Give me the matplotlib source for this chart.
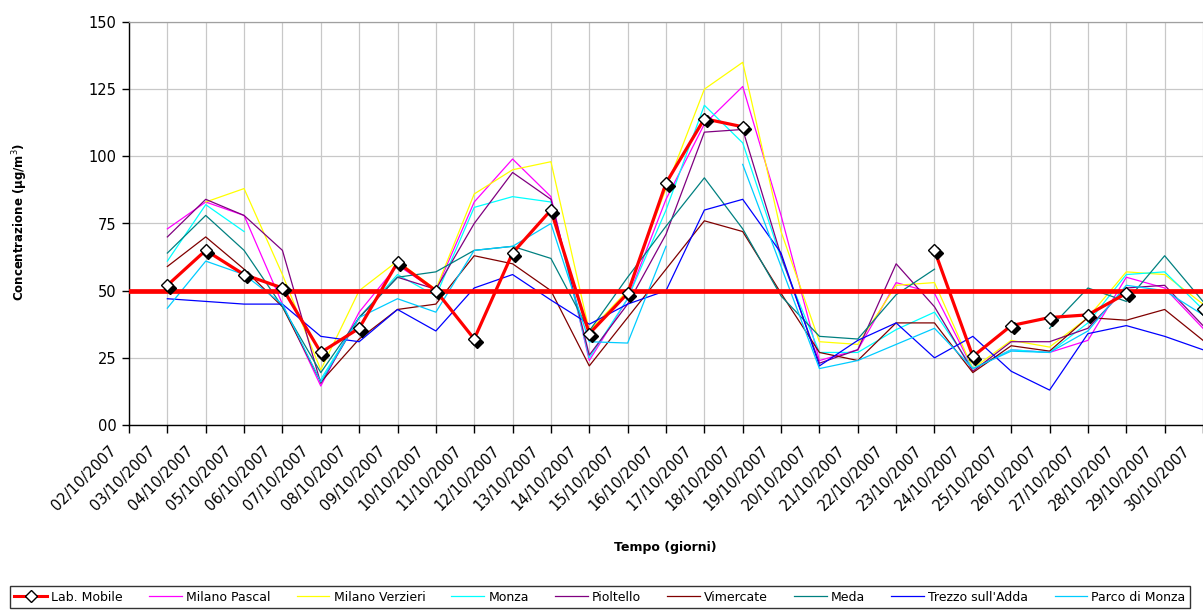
import numpy as np
import matplotlib
matplotlib.use("Agg")
import matplotlib.pyplot as plt
from matplotlib.lines import Line2D
from matplotlib.transforms import ScaledTranslation

nan = np.nan

dates = ["02/10/2007", "03/10/2007", "04/10/2007", "05/10/2007", "06/10/2007",
         "07/10/2007", "08/10/2007", "09/10/2007", "10/10/2007", "11/10/2007",
         "12/10/2007", "13/10/2007", "14/10/2007", "15/10/2007", "16/10/2007",
         "17/10/2007", "18/10/2007", "19/10/2007", "20/10/2007", "21/10/2007",
         "22/10/2007", "23/10/2007", "24/10/2007", "25/10/2007", "26/10/2007",
         "27/10/2007", "28/10/2007", "29/10/2007", "30/10/2007"]

lab_mobile = [nan, 52, 65, 56, 51, 27, 36, 60.5, 50, 32, 64, 80, 34, 49, 90, 114, 111,
              nan, nan, nan, nan, 65, 25.5, 37, 40, 41, 49, nan, 43]
milano_pascal = [nan, 73, 83, 78, 45, 14.5, 42, 59.5, 50, 83, 99, 85, 24, 47, 84, 112, 126,
                 78, 24, 28, 53, 49, 21, 28, 27, 31.5, 55, 51, 36]
milano_verzieri = [nan, nan, 83, 88, 56, 20.5, 50, 61, 50.5, 86, 95, 98, 35, 50, 88, 125, 135,
                   72, 31, 30, 52, 53, 21, 31.5, 29, 40, 57, 56, 45]
monza = [nan, 61, 82, 72, nan, 17, 40, 56, 48, 81, 85, 83, 25, 47, 80, 119, 105,
         62, 27, 27, 35.5, 42, 21, 28, 27, 38, 56, 57, 43]
pioltello = [nan, 70, 84, 78, 65, 15.5, 40, 55, 50.5, 75, 94, 84, 26, 45, 71, 109, 110,
             63, 23, 28, 60, 44, 20, 31, 31, 36, 51, 52, 37]
vimercate = [nan, 59, 70, 58, 44, 16, 32, 43, 45, 63, 60, 50, 22, 40, 58, 76, 72,
             49, 27, 24, 38, 38, 19.5, 29.5, 27.5, 40, 39, 43, 31.5]
meda = [nan, 64, 78, 65, 44, 19.5, 40, 55, 57, 65, 66.5, 62, 35, 55, 74, 92, 73,
        48, 33, 32, 48.5, 58, nan, nan, 36, 51, 46, 63, 46]
trezzo = [nan, 47, 46, 45, 45, 33, 31, 43, 35, 51, 56, 46.5, 37.5, 45, 50, 80, 84,
          64, 22, 31.5, 38, 25, 33, 20, 13, 34, 37, 33, 28]
parco_monza = [nan, 43.5, 61, 56, 45, 16, 40, 47, 42, 65, 66.5, 75, 31, 30.5, 66.5, nan, 97,
               59, 21, 24, 30, 36, 21, 27.5, 27, 35, 52, 50, 41]

limit_value = 50
y_ticks = [0, 25, 50, 75, 100, 125, 150]
y_tick_labels = ["00", "25", "50", "75", "100", "125", "150"]

other_series = [
    ("Milano Pascal", milano_pascal, "#FF00FF"),
    ("Milano Verzieri", milano_verzieri, "#FFFF00"),
    ("Monza", monza, "#00FFFF"),
    ("Pioltello", pioltello, "#800080"),
    ("Vimercate", vimercate, "#800000"),
    ("Meda", meda, "#008080"),
    ("Trezzo sull'Adda", trezzo, "#0000FF"),
    ("Parco di Monza", parco_monza, "#00CCFF"),
]

W, H = 1203, 610
fig = plt.figure(figsize=(W / 100, H / 100), dpi=100)
ax = fig.add_axes([129 / W, 1 - 425 / H, (1203 - 129) / W, (425 - 22) / H])

x = np.arange(len(dates))

handles = []
lab_handle = Line2D([], [], color="#FF0000", lw=2.2, marker="D", markersize=6.5,
                    markerfacecolor="white", markeredgecolor="black", markeredgewidth=1.0)
handles.append(lab_handle)

for name, vals, col in other_series:
    ln, = ax.plot(x, vals, color=col, lw=0.9, label=name, zorder=2)
    handles.append(ln)

ax.axhline(limit_value, color="#FF0000", lw=3.4, zorder=3)

ax.plot(x, lab_mobile, color="#FF0000", lw=2.3, zorder=4)
shadow = ScaledTranslation(2.5 / 100, -2.5 / 100, fig.dpi_scale_trans)
ax.plot(x, lab_mobile, ls="none", marker="D", markersize=6.5, color="black",
        markeredgecolor="black", transform=ax.transData + shadow, zorder=4.5, clip_on=False)
ax.plot(x, lab_mobile, ls="none", marker="D", markersize=6.5, markerfacecolor="white",
        markeredgecolor="black", markeredgewidth=1.0, zorder=5, clip_on=False)

ax.set_xlim(0, len(dates) - 1)
ax.set_ylim(0, 150)
ax.set_yticks(y_ticks)
ax.set_yticklabels(y_tick_labels, fontsize=10.5)
ax.set_xticks(x)
ax.tick_params(axis="x", direction="out", length=6, width=1, pad=11, colors="black")
ax.tick_params(axis="y", direction="out", length=5, width=1, pad=4, colors="black")
ax.set_xticklabels(dates, fontsize=10.5, rotation=45, ha="right", va="center",
                   rotation_mode="anchor")
off = ScaledTranslation(-15 / 100, 0, fig.dpi_scale_trans)
for lbl in ax.get_xticklabels():
    lbl.set_transform(lbl.get_transform() + off)

ax.grid(True, color="#C8C8C8", lw=0.9, zorder=0)
ax.set_axisbelow(True)
for s in ["left", "bottom"]:
    ax.spines[s].set_color("black")
    ax.spines[s].set_linewidth(1.0)
ax.spines["top"].set_color("#A0A0A0")
ax.spines["top"].set_linewidth(0.9)
ax.spines["right"].set_visible(False)

fig.text(20 / W, 1 - 222 / H, "Concentrazione (µg/m$^3$)", rotation=90, ha="center",
         va="center", fontsize=8.5, fontweight="bold")
fig.text(665 / W, 1 - 547 / H, "Tempo (giorni)", ha="center", va="center",
         fontsize=9, fontweight="bold")

labels = ["Lab. Mobile"] + [n for n, _, _ in other_series]
leg = fig.legend(handles, labels, loc="lower left", ncol=9, mode="expand",
                 bbox_to_anchor=(10 / W, 1 - 608 / H, 1180 / W, 25 / H),
                 bbox_transform=fig.transFigure, borderaxespad=0, fontsize=9,
                 handlelength=2.6, handletextpad=0.35, columnspacing=0.5,
                 frameon=True, fancybox=False, edgecolor="black", borderpad=0.35)
leg.get_frame().set_linewidth(1.0)

fig.savefig("out.png", dpi=100)
